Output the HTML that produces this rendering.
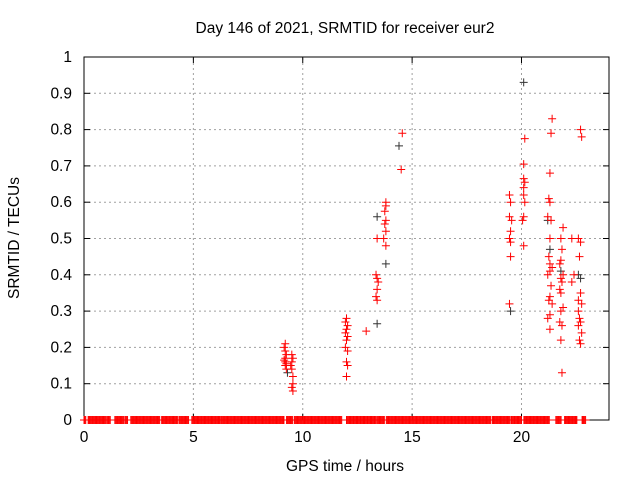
<!DOCTYPE html>
<html><head><meta charset="utf-8"><style>
body{margin:0;background:#fff}
svg{font-family:"Liberation Sans",sans-serif;font-size:15.5px}
</style></head><body>
<svg id="chart" width="640" height="480" xmlns="http://www.w3.org/2000/svg">
<rect width="640" height="480" fill="#fff"/>
<g id="grid"></g>
<g id="axes"></g>
<g id="pts"></g>
<text x="345" y="33" text-anchor="middle">Day 146 of 2021, SRMTID for receiver eur2</text>
<text x="345" y="471" text-anchor="middle">GPS time / hours</text>
<text transform="translate(19,238) rotate(-90)" text-anchor="middle">SRMTID / TECUs</text>
</svg>
<script>
const xTicks=[0,5,10,15,20];
const yTicks=[0,0.1,0.2,0.3,0.4,0.5,0.6,0.7,0.8,0.9,1];
const yTickLabels=["0","0.1","0.2","0.3","0.4","0.5","0.6","0.7","0.8","0.9","1"];
// zero-value runs [start,end] in hours
const zeroRuns=[[0,0.11],[0.19,1.01],[1.04,1.23],[1.41,1.81],[1.87,2.0],[2.14,3.46],[3.55,4.27],[4.34,4.78],[4.93,6.21],[6.26,9.15],[9.26,9.54],[9.62,11.79],[12.0,13.36],[13.41,13.76],[13.82,18.59],[18.66,19.46],[19.52,20.0],[20.11,21.28],[21.57,21.81],[21.97,22.53],[22.77,22.94]];
// red points: times and values
const redT=[9.2,9.15,9.2,9.25,9.2,9.15,9.2,9.25,9.2,9.25,9.5,9.55,9.5,9.45,9.5,9.55,9.55,9.5,9.55,
12,11.95,12.05,12,11.95,12.05,12,11.95,12.05,12,12.05,12,12.9,
13.4,13.35,13.4,13.45,13.4,13.35,13.4,
13.8,13.8,13.75,13.8,13.75,13.8,13.7,13.8,
14.55,14.5,
19.45,19.5,19.45,19.55,19.5,19.45,19.5,19.5,19.45,
20.15,20.1,20.1,20.15,20.1,20.1,20.15,20.1,20.05,20.1,
21.4,21.35,21.3,21.25,21.3,21.2,21.35,21.3,21.25,21.3,21.4,21.3,21.2,21.35,21.3,21.25,21.4,21.3,21.2,21.3,
21.9,21.8,21.85,21.8,21.75,21.9,21.8,21.85,21.75,21.8,21.9,21.8,21.75,21.85,21.8,21.85,
22.3,22.3,22.4,
22.7,22.75,22.6,22.7,22.65,22.7,22.6,22.75,22.65,22.7,22.6,22.75,22.65,22.7,22.6];
const redV=[0.21,0.2,0.19,0.18,0.17,0.165,0.16,0.155,0.15,0.14,0.18,0.17,0.16,0.15,0.14,0.12,0.1,0.09,0.08,
0.28,0.27,0.26,0.25,0.24,0.23,0.22,0.2,0.19,0.16,0.15,0.12,0.245,
0.5,0.4,0.39,0.38,0.36,0.34,0.33,
0.6,0.59,0.575,0.55,0.54,0.52,0.5,0.48,
0.79,0.69,
0.62,0.6,0.56,0.55,0.52,0.5,0.49,0.45,0.32,
0.775,0.705,0.665,0.655,0.64,0.62,0.6,0.56,0.55,0.48,
0.83,0.79,0.68,0.61,0.6,0.56,0.55,0.5,0.45,0.43,0.42,0.41,0.4,0.37,0.34,0.33,0.32,0.29,0.28,0.25,
0.53,0.5,0.47,0.44,0.43,0.4,0.39,0.38,0.36,0.35,0.31,0.3,0.27,0.26,0.22,0.13,
0.5,0.38,0.4,
0.8,0.78,0.5,0.49,0.45,0.35,0.33,0.32,0.28,0.27,0.26,0.24,0.22,0.21,0.3];
const blackT=[9.3,13.4,13.4,13.8,14.4,19.5,20.1,21.2,21.3,21.8,22.6,22.7];
const blackV=[0.13,0.56,0.265,0.43,0.755,0.3,0.93,0.55,0.47,0.41,0.4,0.39];
const X0=84,X1=609,Y0=420,Y1=57,XMAX=24;
const sx=v=>X0+v/XMAX*(X1-X0), sy=v=>Y0-v*(Y0-Y1);
const NS="http://www.w3.org/2000/svg";
function mk(tag,attrs,parent){const e=document.createElementNS(NS,tag);for(const k in attrs)e.setAttribute(k,attrs[k]);parent.appendChild(e);return e;}
const grid=document.getElementById('grid'),axes=document.getElementById('axes'),pts=document.getElementById('pts');
xTicks.forEach((t,i)=>{
 const l=mk('line',{x1:sx(t),x2:sx(t),y1:Y0,y2:Y1,stroke:'#a0a0a0','stroke-dasharray':'2,3'},grid);
 
 
 mk('line',{x1:sx(t),x2:sx(t),y1:Y0,y2:Y0-6,stroke:'#000'},axes);
 mk('line',{x1:sx(t),x2:sx(t),y1:Y1,y2:Y1+6,stroke:'#000'},axes);
 const tx=mk('text',{x:sx(t),y:Y0+22,'text-anchor':'middle'},axes);tx.textContent=t;
 
 
});
yTicks.forEach((t,i)=>{
 const l=mk('line',{x1:X0,x2:X1,y1:sy(t),y2:sy(t),stroke:'#a0a0a0','stroke-dasharray':'2,3'},grid);
 
 
 mk('line',{x1:X0,x2:X0+6,y1:sy(t),y2:sy(t),stroke:'#000'},axes);
 mk('line',{x1:X1,x2:X1-6,y1:sy(t),y2:sy(t),stroke:'#000'},axes);
 const tx=mk('text',{x:X0-12,y:sy(t)+5,'text-anchor':'end'},axes);tx.textContent=yTickLabels[i];
 
 
});
mk('rect',{x:X0,y:Y1,width:X1-X0,height:Y0-Y1,fill:'none',stroke:'#000'},axes);
function plus(t,v,c){
 const x=sx(t),y=sy(v);
 const p=mk('path',{d:`M${x-4},${y}H${x+4}M${x},${y-4}V${y+4}`,stroke:c,'stroke-width':1},pts);
 
 
}
zeroRuns.forEach(r=>{for(let t=r[0];t<=r[1]+1e-9;t+=0.04)plus(t,0,'#f00');});
blackT.forEach((t,i)=>plus(t,blackV[i],'#333'));
redT.forEach((t,i)=>plus(t,redV[i],'#f00'));
</script>
</body></html>
